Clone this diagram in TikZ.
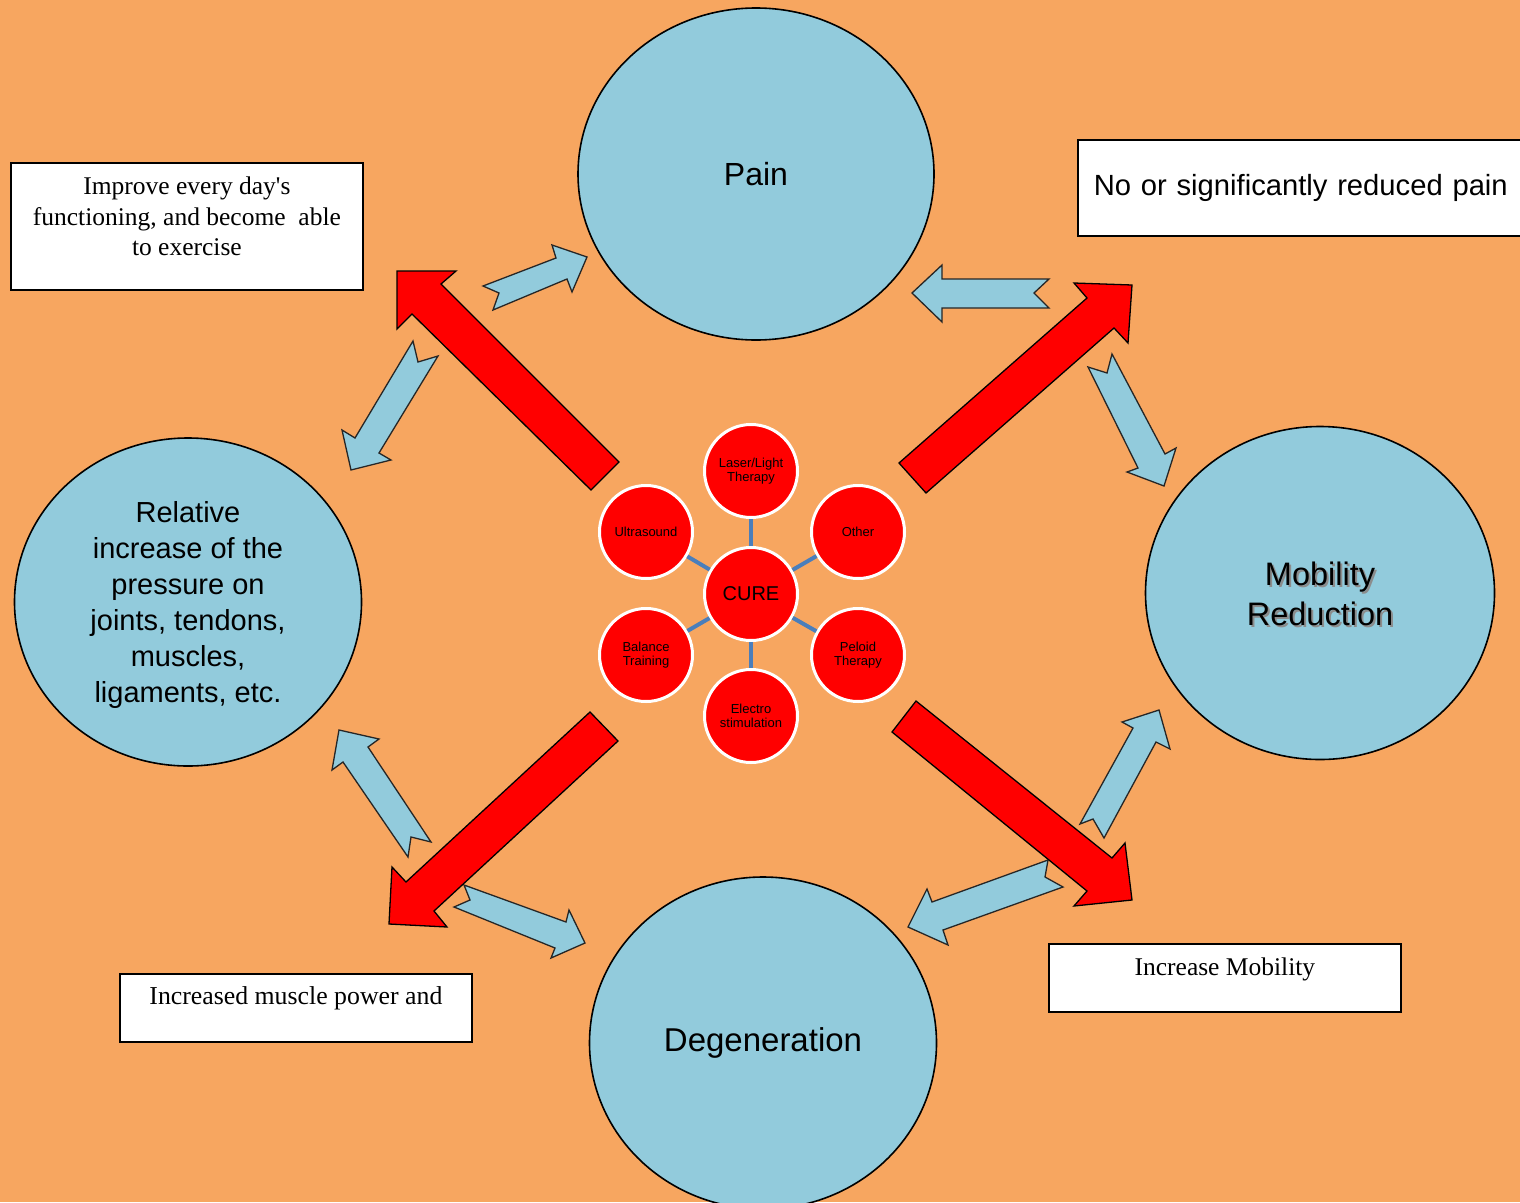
\documentclass[tikz,border=0pt]{standalone}
\usepackage{fontspec}
\setmainfont{Liberation Sans}
\newfontfamily\seriffont{Liberation Serif}
\usetikzlibrary{shapes.geometric}
\definecolor{bg}{RGB}{247,166,96}
\definecolor{lblue}{RGB}{146,203,220}
\definecolor{conn}{RGB}{74,126,187}
\begin{document}
\begin{tikzpicture}[x=1pt,y=-1pt,
  bigell/.style={ellipse, fill=lblue, draw=black, line width=1.6pt, inner sep=0pt},
  wbox/.style={rectangle, fill=white, draw=black, line width=1.8pt, inner sep=0pt},
  bluearrow/.style={fill=lblue, draw=black!85, line width=1.3pt, line join=miter},
  redarrow/.style={fill=red, draw=black, line width=1.3pt, line join=miter},
  cureball/.style={circle, fill=red, draw=white, line width=3pt, minimum size=93pt, inner sep=0pt, align=center, font=\fontsize{13}{14}\selectfont},
  link/.style={draw=conn, line width=4pt}
]
\useasboundingbox (0,0) rectangle (1520,1202);
\fill[bg] (0,0) rectangle (1520,1202);

% big ellipses
\node[bigell, minimum width=356pt, minimum height=332pt, font=\fontsize{32}{38}\selectfont] (pain) at (756,174) {Pain};
\node[bigell, minimum width=347pt, minimum height=328pt] (rel) at (188,602) {};
\node[align=center, font=\fontsize{29}{36}\selectfont] (reltxt) at ([yshift=-3pt]rel.center)
  {Relative\\increase of the\\pressure on\\joints, tendons,\\muscles,\\ligaments, etc.};
\node[bigell, minimum width=349pt, minimum height=333pt] (mob) at (1320,593) {};
\node[align=center, text=black!45, font=\fontsize{32.5}{40}\selectfont] (mobshadow) at ([shift={(2,3)}]mob.center) {Mobility\\Reduction};
\node[align=center, font=\fontsize{32.5}{40}\selectfont] (mobtxt) at ([shift={(0,1)}]mob.center) {Mobility\\Reduction};
\node[bigell, minimum width=347pt, minimum height=332pt, font=\fontsize{33}{38}\selectfont] (deg) at (763,1043) {Degeneration};

% text boxes
\node[wbox, anchor=north west] (improve) at (10,162)
  {\parbox[c][127pt][t]{352pt}{\centering\seriffont\fontsize{25.5}{30.5}\selectfont\vspace*{14pt}Improve every day's\\functioning, and become\ \ able\\to exercise\par}};
\node[wbox, anchor=west, minimum height=96pt, text width=440pt, inner xsep=16pt, align=left, font=\fontsize{29.2}{34}\selectfont] (nopain) at (1077,188)
  {No or significantly reduced pain};
\node[wbox, anchor=north west] (incmob) at (1048,943)
  {\parbox[c][68pt][t]{352pt}{\centering\seriffont\fontsize{25.5}{30}\selectfont\vspace*{14pt}Increase Mobility\par}};
\node[wbox, anchor=north west] (muscle) at (119,973)
  {\parbox[c][68pt][t]{352pt}{\centering\seriffont\fontsize{25.8}{30}\selectfont\vspace*{13pt}Increased muscle power and\par}};

% light blue arrows
\draw[bluearrow] (483,286) -- (556,258) -- (552,245) -- (587,257) -- (572,292) -- (567,279) -- (493,310) -- (499,293) -- cycle;
\draw[bluearrow] (413,341) -- (418,362) -- (438,356) -- (379,453) -- (391,460) -- (351,470) -- (342,430) -- (355,438) -- cycle;
\draw[bluearrow] (912,293) -- (942,265) -- (942,279) -- (1049,279) -- (1034,293) -- (1049,308) -- (942,308) -- (942,322) -- cycle;
\draw[bluearrow] (1088,367) -- (1138,468) -- (1127,472) -- (1164,486) -- (1176,448) -- (1165,454) -- (1112,354) -- (1107,373) -- cycle;
\draw[bluearrow] (339,730) -- (379,739) -- (368,747) -- (431,842) -- (411,837) -- (408,857) -- (343,762) -- (332,770) -- cycle;
\draw[bluearrow] (464,885) -- (470,900) -- (454,907) -- (555,948) -- (551,958) -- (585,943) -- (569,910) -- (566,922) -- cycle;
\draw[bluearrow] (1080,824) -- (1093,819) -- (1104,838) -- (1156,742) -- (1170,749) -- (1159,710) -- (1122,722) -- (1133,728) -- cycle;
\draw[bluearrow] (1048,860) -- (1045,877) -- (1063,887) -- (943,930) -- (948,945) -- (908,927) -- (927,889) -- (932,902) -- cycle;

% red arrows
\draw[redarrow] (397,271) -- (456,271) -- (441,284) -- (619,462) -- (591,490) -- (412,314) -- (397,329) -- cycle;
\draw[redarrow] (899,463) -- (1087,298) -- (1074,283) -- (1132,285) -- (1128,343) -- (1114,328) -- (926,493) -- cycle;
\draw[redarrow] (590,712) -- (406,882) -- (392,867) -- (389,924) -- (447,927) -- (434,911) -- (618,741) -- cycle;
\draw[redarrow] (916,701) -- (1112,858) -- (1125,843) -- (1132,900) -- (1074,906) -- (1087,891) -- (892,732) -- cycle;

% cure cluster
\node[cureball, font=\fontsize{20}{24}\selectfont] (cure) at (751,594) {CURE};
\node[cureball] (laser) at (751,471) {Laser/Light\\Therapy};
\node[cureball] (other) at (858,532) {Other};
\node[cureball] (ultra) at (646,532) {Ultrasound};
\node[cureball] (balance) at (646,655) {Balance\\Training};
\node[cureball] (peloid) at (858,655) {Peloid\\Therapy};
\node[cureball] (electro) at (751,716) {Electro\\stimulation};
\foreach \n in {laser,other,ultra,balance,peloid,electro}
  \draw[link] (cure) -- (\n);
\end{tikzpicture}
\end{document}
